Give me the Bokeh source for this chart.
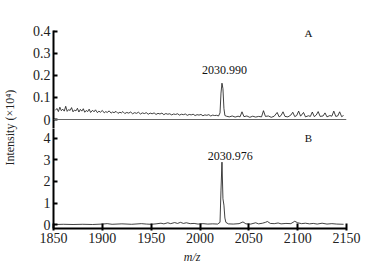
import math
from bokeh.plotting import figure
from bokeh.layouts import row, column
from bokeh.models import Range1d, FixedTicker, Span
from bokeh.core.properties import value
from bokeh.embed import file_html
from bokeh.resources import INLINE

FONT = "Liberation Serif"

# ---- data ----
x_ticks = [1850, 1900, 1950, 2000, 2050, 2100, 2150]
a_ticks = [0, 0.1, 0.2, 0.3, 0.4]
b_ticks = [0, 1, 2, 3, 4]

a_mz = [1852, 1853.5, 1855, 1856.5, 1858, 1859.5, 1861, 1862.5, 1864, 1865.5, 1867, 1868.5,
        1870, 1871.5, 1873, 1874.5, 1876, 1877.5, 1879, 1880.5, 1882, 1883.5, 1885, 1886.5,
        1888, 1890, 1891.5, 1893, 1895, 1896.5, 1898, 1900, 1902, 1903.5, 1905, 1907, 1909,
        1910.5, 1912, 1914, 1916, 1918, 1919.5, 1921, 1923, 1925, 1927, 1929, 1931, 1933,
        1935, 1937, 1939, 1941, 1943, 1945, 1947, 1949, 1951, 1953, 1955, 1957, 1959, 1961,
        1963, 1965, 1967, 1969, 1971, 1973, 1975, 1977, 1979, 1981, 1983, 1985, 1987, 1989,
        1991, 1993, 1995, 1997, 1999, 2001, 2003, 2005, 2007, 2009, 2011, 2013, 2015, 2017,
        2019, 2020.5, 2021.5, 2022.5, 2023.5, 2024.5, 2025.5,
        2027, 2030, 2033, 2036, 2039, 2041, 2043, 2045, 2048, 2051, 2054, 2057,
        2060, 2063, 2065, 2067, 2070, 2073, 2076, 2079, 2081, 2083, 2085, 2087, 2090, 2093,
        2095, 2097, 2099, 2101, 2103, 2106, 2108, 2111, 2113, 2115, 2117, 2119, 2121, 2123,
        2126, 2128, 2130, 2133, 2135, 2137, 2139, 2141, 2143, 2145, 2147]
a_int = [0.042, 0.050, 0.036, 0.056, 0.040, 0.047, 0.038, 0.060, 0.037, 0.045, 0.041, 0.054,
         0.035, 0.043, 0.039, 0.051, 0.034, 0.046, 0.038, 0.049, 0.033, 0.041, 0.036, 0.047,
         0.032, 0.042, 0.035, 0.044, 0.031, 0.038, 0.033, 0.041, 0.030, 0.036, 0.032, 0.039, 0.029,
         0.034, 0.031, 0.037, 0.028, 0.033, 0.030, 0.036, 0.027, 0.032, 0.029, 0.034, 0.026, 0.031,
         0.028, 0.033, 0.025, 0.030, 0.027, 0.031, 0.024, 0.029, 0.026, 0.030, 0.023, 0.028, 0.025, 0.029,
         0.022, 0.027, 0.024, 0.026, 0.021, 0.025, 0.023, 0.026, 0.020, 0.024, 0.022, 0.025, 0.019, 0.023,
         0.021, 0.024, 0.018, 0.022, 0.020, 0.023, 0.017, 0.021, 0.019, 0.022, 0.016, 0.020, 0.018, 0.019,
         0.016, 0.030, 0.120, 0.165, 0.140, 0.050, 0.018,
         0.015, 0.012, 0.016, 0.011, 0.015, 0.012, 0.035, 0.013, 0.016, 0.010, 0.015, 0.011,
         0.014, 0.012, 0.040, 0.014, 0.016, 0.010, 0.015, 0.032, 0.012, 0.018, 0.035, 0.014, 0.012, 0.020,
         0.033, 0.013, 0.018, 0.038, 0.015, 0.032, 0.012, 0.017, 0.014, 0.034, 0.013, 0.020, 0.036, 0.014,
         0.016, 0.030, 0.012, 0.018, 0.015, 0.038, 0.014, 0.016, 0.035, 0.013, 0.018]

b_mz = [1852, 1860, 1870, 1880, 1890, 1900, 1905, 1910, 1920, 1930, 1940, 1945, 1950, 1955,
        1960, 1963, 1967, 1970, 1974, 1977, 1980, 1983, 1986, 1990, 1994, 1998, 2003, 2008,
        2013, 2018, 2020.5, 2021.5, 2022.5, 2023.5, 2024.5, 2025.5, 2026.5, 2029, 2034, 2040,
        2044, 2047, 2052, 2057, 2060, 2064, 2067, 2069, 2072, 2076, 2080, 2083, 2088, 2093,
        2097, 2100, 2104, 2108, 2112, 2116, 2120, 2125, 2130, 2135, 2140, 2147]
b_int = [0.00, 0.01, 0.00, 0.01, 0.00, 0.02, 0.04, 0.01, 0.03, 0.01, 0.04, 0.02, 0.01, 0.03,
         0.06, 0.03, 0.08, 0.04, 0.09, 0.05, 0.10, 0.05, 0.08, 0.04, 0.05, 0.02, 0.04, 0.02,
         0.03, 0.02, 0.10, 1.60, 2.90, 1.20, 0.90, 0.30, 0.10, 0.03, 0.02, 0.04, 0.12, 0.03,
         0.02, 0.08, 0.03, 0.06, 0.10, 0.14, 0.05, 0.04, 0.07, 0.03, 0.05, 0.04, 0.15, 0.08,
         0.04, 0.06, 0.03, 0.05, 0.02, 0.06, 0.02, 0.04, 0.02, 0.01]

a_peak_label = "2030.990"
b_peak_label = "2030.976"
a_peak_pos = (2025, 0.223)
b_peak_pos = (2031, 3.2)
panel_a_pos = (2111, 0.395)
panel_b_pos = (2111, 4.0)
x_title_pos = 1992

# ---- layout ----
x_range = Range1d(x_ticks[0], x_ticks[-1])


def style_y(p, ticks):
    ax = p.yaxis[0]
    ax.ticker = FixedTicker(ticks=ticks)
    ax.major_tick_in = 4
    ax.major_tick_out = 0
    ax.minor_tick_in = 0
    ax.minor_tick_out = 0
    ax.axis_line_width = 2
    ax.major_tick_line_width = 2
    ax.major_label_standoff = 3
    ax.major_label_text_font = FONT
    ax.major_label_text_font_size = "14px"
    ax.major_label_text_color = "#222222"
    ax.major_label_overrides = {0: "0"}


top = figure(width=344, height=128, x_range=x_range, y_range=Range1d(-0.0409, 0.4045),
             output_backend="svg", toolbar_location=None, x_axis_location=None,
             min_border_left=31, min_border_right=20, min_border_top=30, min_border_bottom=0)
top.grid.visible = False
top.outline_line_color = None
style_y(top, a_ticks)
top.add_layout(Span(location=0, dimension="width", line_color="#666666", line_width=1))
top.line(a_mz, a_int, line_color="#111111", line_width=0.8)
top.text(x=[a_peak_pos[0]], y=[a_peak_pos[1]], text=[a_peak_label], text_align="center",
         text_baseline="middle", text_font=value(FONT), text_font_size="12px", text_color="#111111")
top.text(x=[panel_a_pos[0]], y=[panel_a_pos[1]], text=["A"], text_align="center",
         text_baseline="middle", text_font=value(FONT), text_font_size="11px", text_color="#111111")

bottom = figure(width=344, height=122, x_range=x_range, y_range=Range1d(-0.186, 4.465),
                output_backend="svg", toolbar_location=None,
                min_border_left=31, min_border_right=20, min_border_top=0, min_border_bottom=22)
bottom.grid.visible = False
bottom.outline_line_color = None
style_y(bottom, b_ticks)
xa = bottom.xaxis[0]
xa.ticker = FixedTicker(ticks=x_ticks)
xa.major_tick_in = 5
xa.major_tick_out = 2
xa.minor_tick_in = 0
xa.minor_tick_out = 0
xa.axis_line_width = 2
xa.major_tick_line_width = 2
xa.major_label_standoff = 2
xa.major_label_text_font = FONT
xa.major_label_text_font_size = "14px"
xa.major_label_text_color = "#222222"
bottom.line(b_mz, b_int, line_color="#111111", line_width=0.8)
bottom.text(x=[b_peak_pos[0]], y=[b_peak_pos[1]], text=[b_peak_label], text_align="center",
            text_baseline="middle", text_font=value(FONT), text_font_size="12px", text_color="#111111")
bottom.text(x=[panel_b_pos[0]], y=[panel_b_pos[1]], text=["B"], text_align="center",
            text_baseline="middle", text_font=value(FONT), text_font_size="11px", text_color="#111111")

mz = figure(width=344, height=11, x_range=x_range, y_range=Range1d(0, 1),
            output_backend="svg", toolbar_location=None, x_axis_location=None,
            y_axis_location=None, min_border=0, min_border_left=31, min_border_right=20)
mz.grid.visible = False
mz.outline_line_color = None
mz.text(x=[x_title_pos], y=[0.5], text=["m/z"], text_align="center", text_baseline="middle",
        text_font=value(FONT), text_font_size="12px", text_font_style="italic",
        text_color="#222222")

lab = figure(width=22, height=261, x_range=Range1d(0, 1), y_range=Range1d(0, 1),
             output_backend="svg", toolbar_location=None, x_axis_location=None,
             y_axis_location=None, min_border=0)
lab.grid.visible = False
lab.outline_line_color = None
lab.text(x=[0.45], y=[0.513], text=["Intensity (×10⁴)"], angle=math.pi / 2, text_align="center",
         text_baseline="middle", text_font=value(FONT), text_font_size="12px", text_color="#222222")

layout = row(lab, column(top, bottom, mz))
open("out.html", "w").write(file_html(layout, INLINE))
